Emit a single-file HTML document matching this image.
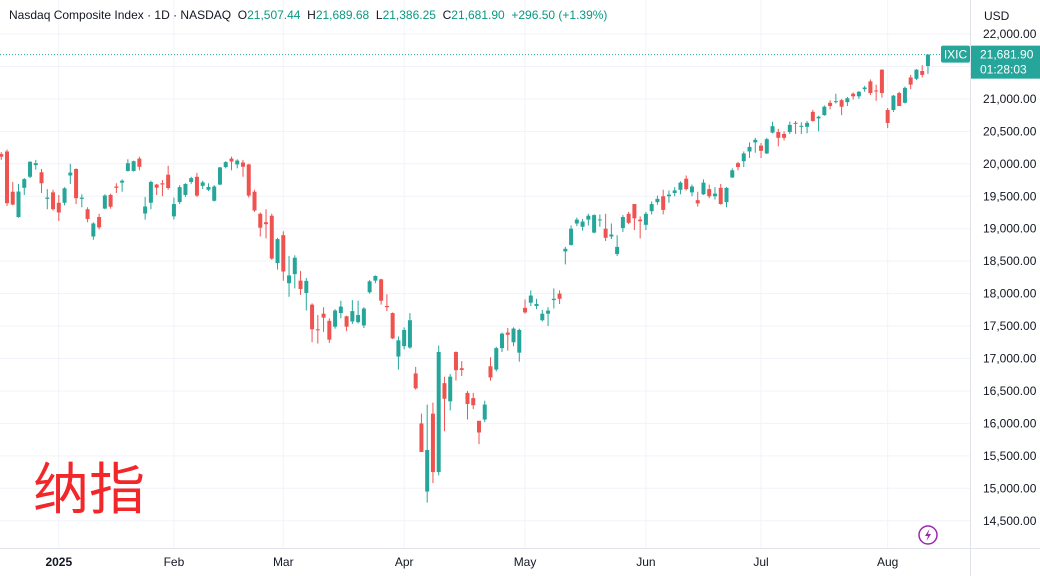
<!DOCTYPE html>
<html><head><meta charset="utf-8">
<style>
html,body{margin:0;padding:0;background:#fff;}
#wrap{position:relative;width:1040px;height:576px;overflow:hidden;font-family:"Liberation Sans","Noto Sans CJK SC",sans-serif;}
#hdr{position:absolute;left:9px;top:8px;font-size:12px;color:#131722;white-space:nowrap;}
#hdr .v{color:#089981;}
#cn{position:absolute;left:33px;top:458px;font-size:56px;color:#f2272a;font-family:"Liberation Sans","Noto Sans CJK SC",sans-serif;line-height:64px;}
</style></head>
<body>
<div id="wrap">
<svg id="chart" width="1040" height="576" style="position:absolute;left:0;top:0;"></svg>
<div id="hdr">Nasdaq Composite Index · 1D · NASDAQ&nbsp;&nbsp;O<span class="v">21,507.44</span>&nbsp;&nbsp;H<span class="v">21,689.68</span>&nbsp;&nbsp;L<span class="v">21,386.25</span>&nbsp;&nbsp;C<span class="v">21,681.90</span>&nbsp;&nbsp;<span class="v">+296.50 (+1.39%)</span></div>
<div id="cn">纳指</div>
</div>
<script>
const opens=[20150,20190,19570,19180,19630,19800,19980,19870,19460,19560,19400,19400,19820,19920,19460,19300,18880,19180,19310,19520,19650,19710,19890,19890,20080,19234,19400,19680,19700,19832,19190,19410,19520,19720,19800,19660,19600,19430,19680,19950,20080,19990,20020,19990,19570,19230,19100,19200,18470,18900,18160,18300,18200,18010,17830,17450,17690,17580,17490,17700,17650,17570,17560,17510,18020,18200,18220,17810,17700,17030,17190,17170,16770,16000,14950,16150,15250,16620,16340,17100,16850,16470,16390,16040,16060,16880,16830,17160,17400,17250,17090,17780,17860,17810,17590,17690,17900,18000,18650,18750,19080,19030,19140,18940,19130,19000,18880,18610,19010,19230,19380,19140,19060,19270,19410,19500,19500,19550,19600,19770,19560,19440,19530,19610,19500,19630,19410,19790,20010,20040,20190,20330,20280,20160,20480,20490,20460,20490,20630,20570,20570,20800,20700,20750,20940,20950,20980,20950,21080,21040,21150,21270,21130,21450,20830,20830,21090,20940,21330,21310,21430,21507];
const highs=[20180,20220,19720,19690,19780,20040,20060,19920,19610,19600,19520,19640,20000,19930,19530,19330,19100,19230,19530,19540,19700,19760,20070,20050,20110,19490,19740,19690,19750,19970,19480,19670,19700,19800,19860,19740,19700,19670,19950,20040,20110,20070,20060,20000,19600,19250,19300,19230,18860,18960,18580,18590,18350,18240,17850,17670,17790,17620,17760,17890,17660,17900,17890,17790,18210,18280,18230,17990,17710,17340,17480,17700,16870,16150,16290,16320,17200,16720,16760,17110,16960,16500,16470,16040,16350,17020,17180,17400,17470,17480,17460,17910,18050,17920,17750,17790,18080,18050,18720,19050,19170,19150,19230,19220,19220,19230,19080,18900,19210,19260,19380,19190,19260,19420,19510,19600,19590,19640,19730,19820,19680,19570,19760,19680,19640,19690,19640,19930,20030,20190,20330,20400,20320,20400,20650,20540,20500,20650,20660,20640,20660,20830,20740,20900,20980,21080,21000,21030,21100,21120,21200,21300,21220,21457,20860,21060,21110,21190,21370,21460,21520,21690];
const lows=[20060,19350,19360,19170,19520,19780,19910,19550,19300,19280,19120,19360,19690,19380,19330,19100,18830,18990,19300,19310,19550,19570,19880,19880,19900,19140,19300,19520,19500,19600,19140,19380,19490,19690,19490,19610,19580,19420,19670,19930,19900,19930,19800,19480,19260,18880,18850,18520,18370,18200,17950,18080,17980,17740,17250,17230,17410,17240,17460,17620,17420,17530,17540,17470,18000,18160,17830,17730,17300,16830,17140,17150,16520,15570,14780,15080,15200,15880,16200,16660,16730,16060,16220,15680,16020,16660,16800,17100,17120,17190,16950,17690,17810,17760,17570,17500,17770,17840,18450,18740,19040,18970,19050,18930,19030,18810,18840,18580,18950,19070,18980,18850,18980,19220,19370,19220,19400,19500,19530,19590,19500,19340,19520,19470,19450,19370,19330,19780,19900,19950,20090,20170,20090,20150,20470,20270,20360,20460,20460,20460,20470,20650,20500,20740,20840,20930,20750,20890,20990,21000,21110,21060,20970,21020,20550,20800,20890,20930,21150,21290,21330,21386];
const closes=[20109,19393,19372,19573,19764,20031,20010,19700,19480,19300,19250,19622,19865,19470,19479,19150,19080,19020,19511,19338,19630,19740,20009,20040,19954,19342,19720,19632,19681,19627,19380,19640,19690,19780,19510,19714,19643,19650,19945,20026,20035,20050,19955,19510,19280,19015,19070,18540,18840,18340,18280,18553,18070,18196,17450,17436,17630,17290,17740,17800,17490,17730,17670,17770,18189,18272,17890,17790,17310,17280,17440,17590,16540,15560,15590,15250,17100,16380,16720,16820,16823,16300,16280,15860,16290,16708,17160,17383,17366,17461,17440,17710,17970,17840,17690,17738,17920,17920,18690,19000,19140,19110,19200,19210,19143,18860,18910,18720,19180,19090,19160,19114,19230,19380,19460,19290,19525,19590,19710,19610,19650,19390,19710,19500,19540,19380,19630,19900,19950,20160,20260,20370,20200,20380,20580,20400,20400,20600,20615,20585,20630,20660,20725,20880,20890,20965,20880,21010,21040,21110,21175,21090,21115,21090,20630,21050,20890,21170,21220,21450,21370,21682];
const monthTickIdx=[10,30,49,70,91,112,132,154];
const monthTickLabels=["2025","Feb","Mar","Apr","May","Jun","Jul","Aug"];
const yTickValues=[14500,15000,15500,16000,16500,17000,17500,18000,18500,19000,19500,20000,20500,21000,22000];
const lastPrice=21681.90;

const NS="http://www.w3.org/2000/svg";
const svg=document.getElementById('chart');
const xScale=i=>1.24+i*5.756;
const yScale=v=>34+(22000-v)*0.0649;
function mk(tag,attrs,parent){const e=document.createElementNS(NS,tag);for(const k in attrs)e.setAttribute(k,attrs[k]);(parent||svg).appendChild(e);return e;}
function fmt(v){return v.toLocaleString('en-US',{minimumFractionDigits:2,maximumFractionDigits:2});}

// grid
const grid=mk('g',{});


yTickValues.concat([21500]).forEach(v=>{const l=mk('line',{x1:0,x2:970,y1:yScale(v),y2:yScale(v),stroke:'#f0f3fa','stroke-width':1},grid);

});
monthTickIdx.forEach(i=>{const l=mk('line',{x1:xScale(i),x2:xScale(i),y1:0,y2:548,stroke:'#f0f3fa','stroke-width':1},grid);

});

// price line
const pl=mk('line',{x1:0,x2:970,y1:yScale(lastPrice),y2:yScale(lastPrice),stroke:'#26a69a','stroke-width':1,'stroke-dasharray':'1 2'});



// candles
const cg=mk('g',{});


for(let i=0;i<closes.length;i++){
  const up=closes[i]>=opens[i];
  const col=up?'#26a69a':'#ef5350';
  const x=xScale(i);
  const g=mk('g',{},cg);
  
  
  mk('line',{x1:x,x2:x,y1:yScale(highs[i]),y2:yScale(lows[i]),stroke:col,'stroke-width':1},g);
  const t=yScale(Math.max(opens[i],closes[i])),b=yScale(Math.min(opens[i],closes[i]));
  mk('rect',{x:x-2,y:t,width:4,height:Math.max(1,b-t),fill:col},g);
}

// axes
const ax=mk('line',{x1:970.5,x2:970.5,y1:0,y2:576,stroke:'#e0e3eb','stroke-width':1});


const bx=mk('line',{x1:0,x2:1040,y1:548.5,y2:548.5,stroke:'#e0e3eb','stroke-width':1});


yTickValues.forEach(v=>{const t=mk('text',{x:983,y:yScale(v)+4,'font-size':12,fill:'#131722','font-family':'Liberation Sans, sans-serif'});t.textContent=fmt(v);

});
const usd=mk('text',{x:984,y:20,'font-size':12,fill:'#131722','font-family':'Liberation Sans, sans-serif'});usd.textContent='USD';


monthTickIdx.forEach((idx,k)=>{const t=mk('text',{x:xScale(idx),y:566,'font-size':12,'text-anchor':'middle',fill:'#131722','font-weight':k===0?'bold':'normal','font-family':'Liberation Sans, sans-serif'});t.textContent=monthTickLabels[k];

});

// price tags
const py=yScale(lastPrice);
const tag1=mk('g',{});


mk('rect',{x:941,y:py-9,width:29,height:17,rx:2,fill:'#26a69a'},tag1);
const s1=mk('text',{x:955.5,y:py+4,'font-size':12,'text-anchor':'middle',fill:'#fff','font-family':'Liberation Sans, sans-serif'},tag1);s1.textContent='IXIC';
const tag2=mk('g',{});


mk('rect',{x:971,y:py-9,width:69,height:33,fill:'#26a69a'},tag2);
const s2=mk('text',{x:980,y:py+4,'font-size':12,fill:'#fff','font-family':'Liberation Sans, sans-serif'},tag2);s2.textContent=fmt(lastPrice);
const s3=mk('text',{x:980,y:py+19,'font-size':12,fill:'#fff','font-family':'Liberation Sans, sans-serif'},tag2);s3.textContent='01:28:03';

// lightning icon
const ic=mk('g',{});


mk('circle',{cx:928,cy:535,r:9,fill:'#fff',stroke:'#9c27b0','stroke-width':1.5},ic);
mk('path',{d:'M929.5 529 L925 536 L928 536 L926.5 541 L931 534 L928 534 Z',fill:'#9c27b0'},ic);
</script>
</body></html>
